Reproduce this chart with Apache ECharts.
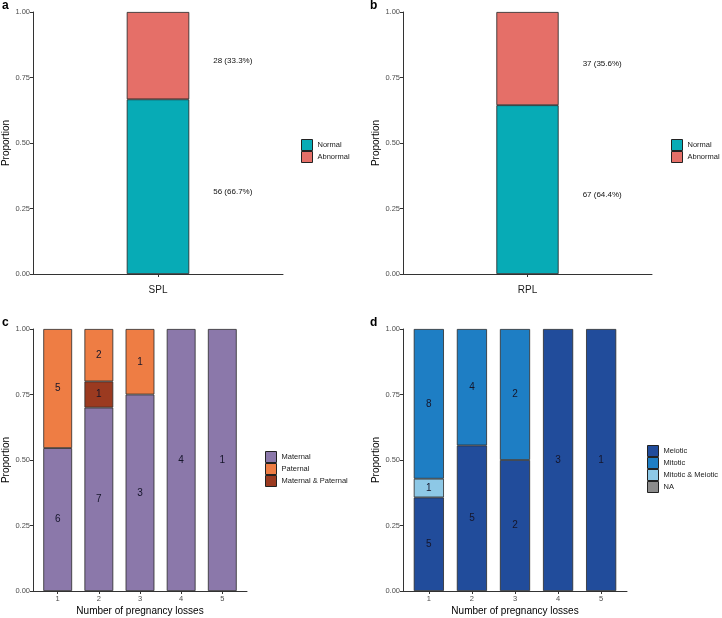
<!DOCTYPE html>
<html><head><meta charset="utf-8">
<script src="https://cdn.jsdelivr.net/npm/echarts@6/dist/echarts.min.js"></script>
<style>html,body{margin:0;padding:0;background:#fff}#c{width:722px;height:618px}</style>
</head><body><div id="c"></div>
<script>
// ---- data ----
const groupsAB = ['SPL', 'RPL'];
const normalCounts = [56, 67];
const abnormalCounts = [28, 37];
const lossCats = ['1', '2', '3', '4', '5'];
const maternal = [6, 7, 3, 4, 1];
const paternal = [5, 2, 1, 0, 0];
const matPat = [0, 1, 0, 0, 0];
const meiotic = [5, 5, 2, 3, 1];
const mitotic = [8, 4, 2, 0, 0];
const mitMei = [1, 0, 0, 0, 0];
const naCounts = [0, 0, 0, 0, 0];

const FONT = '"Liberation Sans", Arial, Helvetica, sans-serif';
const cNormal = '#07abb6', cAbn = '#e56f68';
const cMat = '#8b78aa', cPat = '#ee7d44', cMP = '#9b3a20';
const cMei = '#214c9b', cMit = '#1e7ec4', cMM = '#8dc8e6', cNA = '#8c8c8c';

// frame grids (axis lines) and inner grids (category bands, ggplot-like 0.6 expansion)
const frames = [
  {left: 33, right: 439, top: 12, bottom: 344},
  {left: 403, right: 70, top: 12, bottom: 344},
  {left: 33, right: 475, top: 329, bottom: 27},
  {left: 403, right: 95, top: 329, bottom: 27}
];
function inner(f, nCat) {
  const w = 722 - f.left - f.right;
  const unit = w / (nCat + 0.2);
  return {left: f.left + 0.1 * unit, right: f.right + 0.1 * unit, top: f.top, bottom: f.bottom};
}
const grids = frames.concat([inner(frames[0], 1), inner(frames[1], 1), inner(frames[2], 5), inner(frames[3], 5)]);

function yFrame(i) {
  return {
    type: 'value', gridIndex: i, min: 0, max: 1, interval: 0.25,
    name: 'Proportion', nameLocation: 'middle', nameGap: 19,
    nameTextStyle: {fontFamily: FONT, fontSize: 10, color: '#000'},
    axisLine: {show: true, lineStyle: {color: '#333', width: 1}},
    axisTick: {show: true, length: 3, lineStyle: {color: '#333'}},
    axisLabel: {fontFamily: FONT, fontSize: 7.5, color: '#4d4d4d', margin: 3,
      formatter: v => v.toFixed(2)},
    splitLine: {show: false}
  };
}
function yInner(i) {
  return {type: 'value', gridIndex: i, min: 0, max: 1, show: false, splitLine: {show: false}};
}
function xFrame(i, name) {
  return {
    type: 'value', gridIndex: i, min: 0, max: 1,
    name: name || '', nameLocation: 'middle', nameGap: 15,
    nameTextStyle: {fontFamily: FONT, fontSize: 10, color: '#000'},
    axisLine: {show: true, onZero: false, lineStyle: {color: '#333', width: 1}},
    axisTick: {show: false}, axisLabel: {show: false}, splitLine: {show: false}
  };
}
function xInner(i, cats, fs, color, margin) {
  return {
    type: 'category', gridIndex: i, data: cats,
    axisLine: {show: false},
    axisTick: {show: true, length: 3, alignWithLabel: true, lineStyle: {color: '#333'}},
    axisLabel: {fontFamily: FONT, fontSize: fs, color: color, margin: margin},
    splitLine: {show: false}
  };
}

function abSeries(idx) {
  const tot = normalCounts[idx] + abnormalCounts[idx];
  const gi = 4 + idx;
  const mk = (name, counts, color) => ({
    type: 'bar', name: name, xAxisIndex: gi, yAxisIndex: gi, stack: 'ab' + idx,
    barWidth: '30%',
    itemStyle: {color: color, borderColor: '#222', borderWidth: 0.8},
    label: {show: true, position: 'right', distance: 24, offset: [0, 5],
      fontFamily: FONT, fontSize: 8, color: '#111',
      formatter: () => counts[idx] + ' (' + (counts[idx] / tot * 100).toFixed(1) + '%)'},
    data: [counts[idx] / tot]
  });
  return [mk('Normal', normalCounts, cNormal), mk('Abnormal', abnormalCounts, cAbn)];
}

function stackSeries(gi, list) {
  const totals = lossCats.map((c, k) => list.reduce((s, e) => s + e.counts[k], 0));
  return list.map(e => ({
    type: 'bar', name: e.name, xAxisIndex: gi, yAxisIndex: gi, stack: 's' + gi,
    barWidth: '70%',
    itemStyle: {color: e.color, borderColor: '#2a2a2a', borderWidth: 0.8},
    label: {show: true, position: 'inside', fontFamily: FONT, fontSize: 10, color: '#15152a',
      formatter: p => p.data.count},
    data: e.counts.map((n, k) => n > 0 ? {value: n / totals[k], count: n} : {value: '-', count: 0})
  }));
}

function legend(left, top, names) {
  return {
    orient: 'vertical', left: left, top: top, itemWidth: 11, itemHeight: 11, itemGap: 0,
    icon: 'rect', data: names, selectedMode: false,
    textStyle: {fontFamily: FONT, fontSize: 7.5, color: '#1a1a1a'},
    itemStyle: {borderColor: '#222', borderWidth: 1}
  };
}

const series = [].concat(
  abSeries(0), abSeries(1),
  stackSeries(6, [
    {name: 'Maternal', counts: maternal, color: cMat},
    {name: 'Maternal & Paternal', counts: matPat, color: cMP},
    {name: 'Paternal', counts: paternal, color: cPat}
  ]),
  stackSeries(7, [
    {name: 'Meiotic', counts: meiotic, color: cMei},
    {name: 'Mitotic & Meiotic', counts: mitMei, color: cMM},
    {name: 'Mitotic', counts: mitotic, color: cMit},
    {name: 'NA', counts: naCounts, color: cNA}
  ])
);

const chart = echarts.init(document.getElementById('c'), null, {renderer: 'canvas'});
chart.setOption({
  animation: false,
  backgroundColor: '#fff',
  grid: grids,
  xAxis: [
    xFrame(0), xFrame(1), xFrame(2, 'Number of pregnancy losses'), xFrame(3, 'Number of pregnancy losses'),
    xInner(4, [groupsAB[0]], 10, '#1a1a1a', 11), xInner(5, [groupsAB[1]], 10, '#1a1a1a', 11),
    xInner(6, lossCats, 7.5, '#4d4d4d', 4), xInner(7, lossCats, 7.5, '#4d4d4d', 4)
  ],
  yAxis: [yFrame(0), yFrame(1), yFrame(2), yFrame(3), yInner(4), yInner(5), yInner(6), yInner(7)],
  legend: [
    legend(296, 134, ['Normal', 'Abnormal']),
    legend(666, 134, ['Normal', 'Abnormal']),
    legend(260, 446, ['Maternal', 'Paternal', 'Maternal & Paternal']),
    legend(642, 440, ['Meiotic', 'Mitotic', 'Mitotic & Meiotic', 'NA'])
  ],
  graphic: [
    {type: 'text', left: 2, top: 0, style: {text: 'a', font: 'bold 12px ' + FONT, fill: '#000'}},
    {type: 'text', left: 370, top: 0, style: {text: 'b', font: 'bold 12px ' + FONT, fill: '#000'}},
    {type: 'text', left: 2, top: 317, style: {text: 'c', font: 'bold 12px ' + FONT, fill: '#000'}},
    {type: 'text', left: 370, top: 317, style: {text: 'd', font: 'bold 12px ' + FONT, fill: '#000'}}
  ],
  series: series
});
</script></body></html>
